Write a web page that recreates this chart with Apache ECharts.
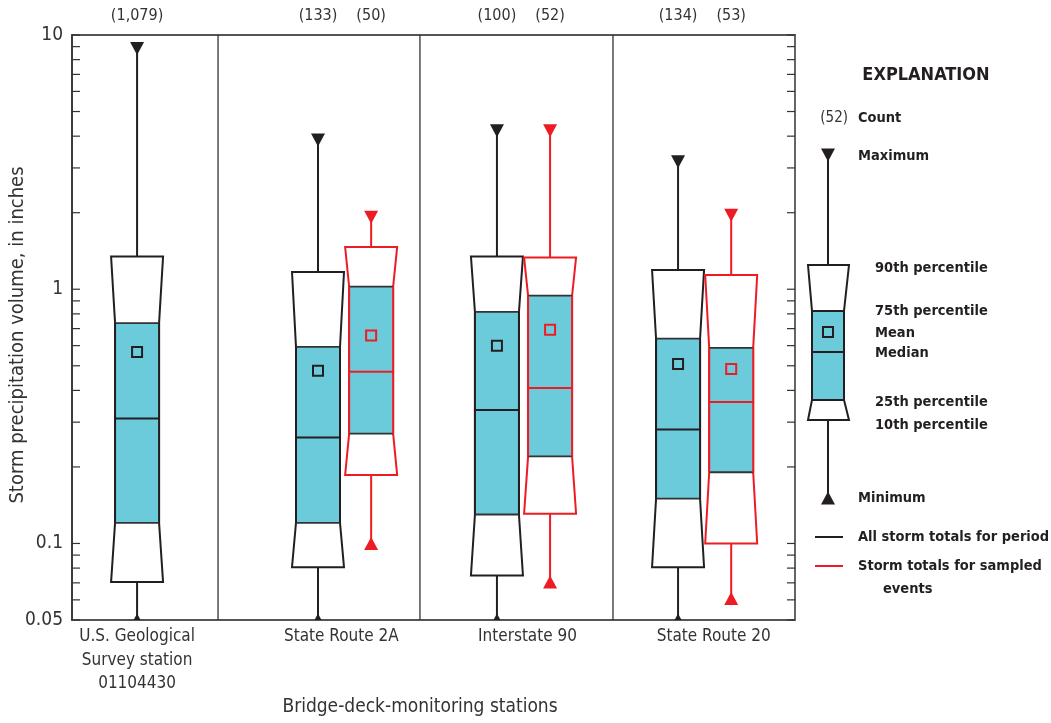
<!DOCTYPE html>
<html>
<head>
<meta charset="utf-8">
<script src="https://cdn.jsdelivr.net/npm/echarts@6/dist/echarts.min.js"></script>
<style>
html,body{margin:0;padding:0;background:#fff;}
#chart{width:1051px;height:723px;}
</style>
</head>
<body>
<div id="chart"></div>
<script>
// ---------------- DATA ----------------
const STATIONS = ['U.S. Geological\nSurvey station\n01104430', 'State Route 2A', 'Interstate 90', 'State Route 20'];
const ALL_COUNT = ['(1,079)', '(133)', '(100)', '(134)'];
const SMP_COUNT = [null, '(50)', '(52)', '(53)'];

// All storm totals for period (black)
const ALL_MIN    = [0.05, 0.05, 0.05, 0.05];
const ALL_P10    = [0.0705, 0.0807, 0.0748, 0.0807];
const ALL_P25    = [0.1206, 0.1206, 0.130, 0.150];
const ALL_MEDIAN = [0.31, 0.261, 0.335, 0.281];
const ALL_P75    = [0.736, 0.593, 0.814, 0.639];
const ALL_P90    = [1.345, 1.168, 1.345, 1.19];
const ALL_MAX    = [8.85, 3.86, 4.20, 3.17];
const ALL_MEAN   = [0.566, 0.478, 0.60, 0.508];

// Storm totals for sampled events (red)
const SMP_MIN    = [null, 0.1, 0.0706, 0.0608];
const SMP_P10    = [null, 0.186, 0.1309, 0.100];
const SMP_P25    = [null, 0.2705, 0.220, 0.1906];
const SMP_MEDIAN = [null, 0.474, 0.409, 0.360];
const SMP_P75    = [null, 1.023, 0.943, 0.588];
const SMP_P90    = [null, 1.465, 1.334, 1.137];
const SMP_MAX    = [null, 1.92, 4.20, 1.954];
const SMP_MEAN   = [null, 0.658, 0.693, 0.486];

const Y_TICK_LABELS = [10, 1, 0.1, 0.05];
const Y_TICKS = [0.05, 0.06, 0.07, 0.08, 0.09, 0.1, 0.2, 0.3, 0.4, 0.5, 0.6, 0.7, 0.8, 0.9, 1, 2, 3, 4, 5, 6, 7, 8, 9, 10];

// ---------------- LAYOUT (station positions on x axis, in station units) ----------------
const STATION_CENTER = [0.36, 1.508, 2.498, 3.50];
const LABEL_POS = [0.36, 1.49, 2.52, 3.55];
const PAIR_OFFSET = 0.147;
const SEPARATORS = [0.808, 1.925, 2.993];

const BLACK = '#231f20';
const RED = '#ed1c24';
const TEAL = '#6ccbdb';
const FONT = "'Liberation Sans Narrow','DejaVu Sans Condensed','Roboto Condensed',sans-serif";

function boxItems(mins, p10, p25, med, p75, p90, max, mean, offset, kind) {
  const out = [];
  for (let i = 0; i < mins.length; i++) {
    if (med[i] == null) continue;
    let pos = STATION_CENTER[i];
    if (kind === 'all' && SMP_MEDIAN[i] != null) pos -= offset;
    if (kind === 'smp') pos += offset;
    out.push([pos, mins[i], p10[i], p25[i], med[i], p75[i], p90[i], max[i], mean[i]]);
  }
  return out;
}
const allData = boxItems(ALL_MIN, ALL_P10, ALL_P25, ALL_MEDIAN, ALL_P75, ALL_P90, ALL_MAX, ALL_MEAN, PAIR_OFFSET, 'all');
const smpData = boxItems(SMP_MIN, SMP_P10, SMP_P25, SMP_MEDIAN, SMP_P75, SMP_P90, SMP_MAX, SMP_MEAN, PAIR_OFFSET, 'smp');

function makeBoxRender(color) {
  return function (params, api) {
    const xv = api.value(0);
    const Y = v => api.coord([xv, v])[1];
    const X = api.coord([xv, api.value(4)])[0];
    const yMin = Y(api.value(1)), y10 = Y(api.value(2)), y25 = Y(api.value(3)),
          yMed = Y(api.value(4)), y75 = Y(api.value(5)), y90 = Y(api.value(6)),
          yMax = Y(api.value(7)), yMean = Y(api.value(8));
    const W = 26, w = 22, T = 7, TH = 13;
    const lw = 2;
    return {
      type: 'group',
      children: [
        { type: 'line', shape: { x1: X, y1: y90, x2: X, y2: yMax }, style: { stroke: color, lineWidth: lw } },
        { type: 'line', shape: { x1: X, y1: y10, x2: X, y2: yMin }, style: { stroke: color, lineWidth: lw } },
        { type: 'polygon', shape: { points: [[X - W, y90], [X + W, y90], [X + w, y75], [X + w, y25], [X + W, y10], [X - W, y10], [X - w, y25], [X - w, y75]] },
          style: { fill: '#fff', stroke: color, lineWidth: lw } },
        { type: 'rect', shape: { x: X - w, y: y75, width: 2 * w, height: y25 - y75 }, style: { fill: TEAL, stroke: null } },
        { type: 'line', shape: { x1: X - w, y1: y75, x2: X + w, y2: y75 }, style: { stroke: '#333', lineWidth: 1.8 } },
        { type: 'line', shape: { x1: X - w, y1: y25, x2: X + w, y2: y25 }, style: { stroke: '#333', lineWidth: 1.8 } },
        { type: 'line', shape: { x1: X - w, y1: y75, x2: X - w, y2: y25 }, style: { stroke: color, lineWidth: lw } },
        { type: 'line', shape: { x1: X + w, y1: y75, x2: X + w, y2: y25 }, style: { stroke: color, lineWidth: lw } },
        { type: 'line', shape: { x1: X - w, y1: yMed, x2: X + w, y2: yMed }, style: { stroke: color, lineWidth: lw } },
        { type: 'rect', shape: { x: X - 5, y: yMean - 5, width: 10, height: 10 }, style: { fill: null, stroke: color, lineWidth: lw } },
        { type: 'polygon', shape: { points: [[X - T, yMax - TH / 2], [X + T, yMax - TH / 2], [X, yMax + TH / 2]] }, style: { fill: color } },
        { type: 'polygon', shape: { points: [[X - T, yMin + TH / 2], [X + T, yMin + TH / 2], [X, yMin - TH / 2]] }, style: { fill: color } }
      ]
    };
  };
}

// counts texts data
const countData = [];
for (let i = 0; i < STATIONS.length; i++) {
  const hasPair = SMP_MEDIAN[i] != null;
  countData.push([STATION_CENTER[i] - (hasPair ? PAIR_OFFSET : 0), ALL_COUNT[i]]);
  if (hasPair) countData.push([STATION_CENTER[i] + PAIR_OFFSET, SMP_COUNT[i]]);
}
const labelData = STATIONS.map((s, i) => [LABEL_POS[i], s]);

const LEG = 'bold 14.5px ' + FONT;
const chart = echarts.init(document.getElementById('chart'));
const option = {
  animation: false,
  backgroundColor: '#fff',
  grid: { left: 72, right: 256, top: 35, bottom: 103, show: true, borderColor: '#555', borderWidth: 1.8, backgroundColor: 'transparent' },
  xAxis: { type: 'value', min: 0, max: 4, show: false },
  yAxis: {
    type: 'log', logBase: 10, min: 0.05, max: 10,
    axisLine: { show: true, lineStyle: { color: '#333', width: 1.6 } },
    axisTick: { show: false }, axisLabel: { show: false }, splitLine: { show: false }
  },
  series: [
    {
      type: 'custom', name: 'separators', silent: true,
      data: SEPARATORS.map(v => [v]),
      encode: { x: 0 },
      renderItem: function (params, api) {
        const cs = params.coordSys;
        const x = api.coord([api.value(0), 1])[0];
        return { type: 'line', shape: { x1: x, y1: cs.y, x2: x, y2: cs.y + cs.height }, style: { stroke: '#333', lineWidth: 1.3 } };
      }
    },
    {
      type: 'custom', name: 'ticks', silent: true,
      data: Y_TICKS.map(v => [0, v]),
      encode: { x: 0, y: 1 },
      renderItem: function (params, api) {
        const cs = params.coordSys;
        const y = api.coord([0, api.value(1)])[1];
        return { type: 'group', children: [
          { type: 'line', shape: { x1: cs.x, y1: y, x2: cs.x + 8, y2: y }, style: { stroke: '#333', lineWidth: 1.2 } },
          { type: 'line', shape: { x1: cs.x + cs.width - 8, y1: y, x2: cs.x + cs.width, y2: y }, style: { stroke: '#333', lineWidth: 1.2 } }
        ] };
      }
    },
    {
      type: 'custom', name: 'tickLabels', silent: true,
      data: Y_TICK_LABELS.map(v => [0, v]),
      encode: { x: 0, y: 1 },
      renderItem: function (params, api) {
        const cs = params.coordSys;
        const v = api.value(1);
        const y = api.coord([0, v])[1];
        return { type: 'text', style: { x: cs.x - 9, y: y, text: String(v), align: 'right', verticalAlign: 'middle', fill: '#333', font: '19px ' + FONT } };
      }
    },
    {
      type: 'custom', name: 'All storm totals for period', clip: true,
      data: allData, encode: { x: 0, y: [1, 2, 3, 4, 5, 6, 7, 8] },
      renderItem: makeBoxRender(BLACK)
    },
    {
      type: 'custom', name: 'Storm totals for sampled events', clip: true,
      data: smpData, encode: { x: 0, y: [1, 2, 3, 4, 5, 6, 7, 8] },
      renderItem: makeBoxRender(RED)
    },
    {
      type: 'custom', name: 'counts', silent: true,
      data: countData,
      encode: { x: 0 },
      renderItem: function (params, api) {
        const cs = params.coordSys;
        const x = api.coord([api.value(0), 1])[0];
        return { type: 'text', style: { x: x, y: cs.y - 19, text: countData[params.dataIndex][1], align: 'center', verticalAlign: 'middle', fill: '#333', font: '16px ' + FONT } };
      }
    },
    {
      type: 'custom', name: 'stationLabels', silent: true,
      data: labelData,
      encode: { x: 0 },
      renderItem: function (params, api) {
        const cs = params.coordSys;
        const x = api.coord([api.value(0), 1])[0];
        return { type: 'text', style: { x: x, y: cs.y + cs.height + 5, text: labelData[params.dataIndex][1], align: 'center', verticalAlign: 'top', fill: '#333', font: '17px ' + FONT, lineHeight: 23.5 } };
      }
    }
  ],
  graphic: [
    { type: 'text', x: 420, y: 707, style: { text: 'Bridge-deck-monitoring stations', align: 'center', verticalAlign: 'middle', fill: '#333', font: '19px ' + FONT } },
    { type: 'text', x: 18, y: 335, rotation: Math.PI / 2, style: { text: 'Storm precipitation volume, in inches', align: 'center', verticalAlign: 'middle', fill: '#333', font: '20px ' + FONT } },
    // Explanation
    { type: 'text', x: 926, y: 75, style: { text: 'EXPLANATION', align: 'center', verticalAlign: 'middle', fill: BLACK, font: 'bold 18px ' + FONT } },
    { type: 'text', x: 848, y: 118, style: { text: '(52)', align: 'right', verticalAlign: 'middle', fill: '#333', font: '15px ' + FONT } },
    { type: 'text', x: 858, y: 118, style: { text: 'Count', verticalAlign: 'middle', fill: BLACK, font: LEG } },
    { type: 'text', x: 858, y: 156, style: { text: 'Maximum', verticalAlign: 'middle', fill: BLACK, font: LEG } },
    { type: 'text', x: 875, y: 268, style: { text: '90th percentile', verticalAlign: 'middle', fill: BLACK, font: LEG } },
    { type: 'text', x: 875, y: 311, style: { text: '75th percentile', verticalAlign: 'middle', fill: BLACK, font: LEG } },
    { type: 'text', x: 875, y: 333, style: { text: 'Mean', verticalAlign: 'middle', fill: BLACK, font: LEG } },
    { type: 'text', x: 875, y: 353, style: { text: 'Median', verticalAlign: 'middle', fill: BLACK, font: LEG } },
    { type: 'text', x: 875, y: 402, style: { text: '25th percentile', verticalAlign: 'middle', fill: BLACK, font: LEG } },
    { type: 'text', x: 875, y: 425, style: { text: '10th percentile', verticalAlign: 'middle', fill: BLACK, font: LEG } },
    { type: 'text', x: 858, y: 498, style: { text: 'Minimum', verticalAlign: 'middle', fill: BLACK, font: LEG } },
    { type: 'text', x: 858, y: 537, style: { text: 'All storm totals for period', verticalAlign: 'middle', fill: BLACK, font: LEG } },
    { type: 'text', x: 858, y: 566, style: { text: 'Storm totals for sampled', verticalAlign: 'middle', fill: BLACK, font: LEG } },
    { type: 'text', x: 883, y: 589, style: { text: 'events', verticalAlign: 'middle', fill: BLACK, font: LEG } },
    { type: 'line', shape: { x1: 815, y1: 537, x2: 843, y2: 537 }, style: { stroke: BLACK, lineWidth: 2 } },
    { type: 'line', shape: { x1: 815, y1: 566, x2: 843, y2: 566 }, style: { stroke: RED, lineWidth: 2 } },
    // explanation box
    { type: 'line', shape: { x1: 828, y1: 155, x2: 828, y2: 265 }, style: { stroke: BLACK, lineWidth: 2 } },
    { type: 'line', shape: { x1: 828, y1: 420, x2: 828, y2: 498 }, style: { stroke: BLACK, lineWidth: 2 } },
    { type: 'polygon', shape: { points: [[808, 265], [849, 265], [844, 311], [844, 400], [849, 420], [808, 420], [812, 400], [812, 311]] }, style: { fill: '#fff', stroke: BLACK, lineWidth: 2 } },
    { type: 'rect', shape: { x: 812, y: 311, width: 32, height: 89 }, style: { fill: TEAL, stroke: BLACK, lineWidth: 2 } },
    { type: 'line', shape: { x1: 812, y1: 352, x2: 844, y2: 352 }, style: { stroke: BLACK, lineWidth: 2 } },
    { type: 'rect', shape: { x: 823, y: 327, width: 10, height: 10 }, style: { fill: null, stroke: BLACK, lineWidth: 2 } },
    { type: 'polygon', shape: { points: [[821, 148.5], [835, 148.5], [828, 161.5]] }, style: { fill: BLACK } },
    { type: 'polygon', shape: { points: [[821, 504.5], [835, 504.5], [828, 491.5]] }, style: { fill: BLACK } }
  ]
};
chart.setOption(option);
</script>
</body>
</html>
